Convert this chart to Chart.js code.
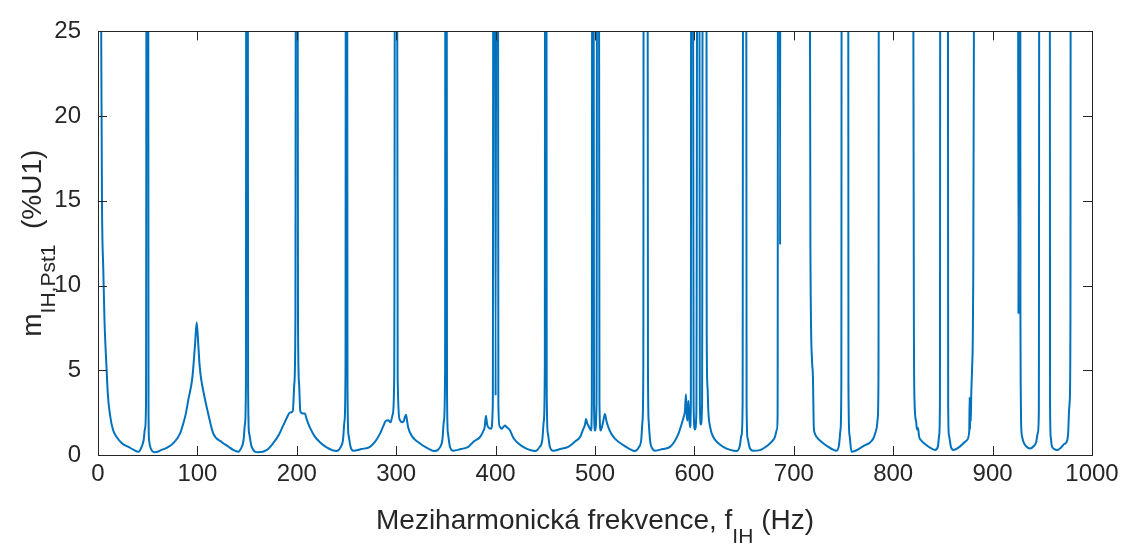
<!DOCTYPE html>
<html>
<head>
<meta charset="utf-8">
<script src="https://cdn.jsdelivr.net/npm/chart.js@4.4.1/dist/chart.umd.min.js"></script>
<style>
  html, body { margin: 0; padding: 0; background: #fff; }
  #wrap { width: 1127px; height: 545px; position: relative; }
</style>
</head>
<body>
<div id="wrap"><canvas id="mainChart"></canvas></div>
<script>
// Interharmonic frequency (Hz) and m_IH,Pst1 (%U1).
// 60 marks points that run off the top of the axis (clipped at 25).
const freqHz = [
    0, 3, 4, 5.3, 6.5, 8.7, 10, 12, 15, 18.8, 24, 30.5, 36, 40.5, 44, 46, 47.3, 48.3, 49.2, 50.3, 50.8, 51.3, 53, 57.3,
    64, 70, 75.8, 82.5, 86, 88.2, 91, 94.9, 97.6, 99.3, 100.9, 102.2, 103.6, 106.9, 111, 116, 124.4, 131, 136, 141, 144, 146.5, 147.8, 148.8, 149.4, 150.4, 151, 152, 154.6,
    161, 170, 176, 182, 186, 190, 193, 196, 197.5, 198.6, 199.4, 200.4, 201.2, 202.3, 203.5, 206, 208, 210, 213, 218, 223, 230, 240, 244, 246.5, 248, 249, 249.5, 250.4, 251, 252, 254,
    256.8, 265, 273.6, 279, 283.7, 287, 289.7, 292, 294.4, 296.5, 298, 299.3, 300.3, 301.5, 303.5, 305.5, 307.5, 309.9, 311, 312, 316, 324, 330, 339, 344, 346.5, 348, 349.2, 349.6, 350.5, 351.1, 352, 354, 357.5,
    365, 372.5, 378, 384.3, 387.5, 389, 390.3, 391.5, 392.6, 395.4, 397.2, 398, 398.8, 400, 401.2, 402, 402.8, 404, 406, 409.5, 411, 414.5, 418, 423, 430, 440, 444, 447, 448.5, 449.5, 450, 450.9, 451.4, 452.5, 454.5, 458,
    465, 473, 480, 485, 488, 490, 491, 492, 493.3, 496, 496.8, 497.4, 498.2, 499, 500, 501.5, 502.5, 503.5, 504.5, 505.7, 508, 510, 511.5, 513.4, 516, 520, 528.5, 535, 540, 544, 546.5, 547.8, 548.6, 549.2, 552.5, 553.3, 554, 555.5, 557.5,
    560.4, 568, 575.5, 580, 584, 587, 589, 590.5, 591.5, 592.3, 593, 594, 594.8, 595.6, 596.4, 597, 598, 599.2, 600.5, 602, 603.4, 604.5, 605.5, 606.5, 607.7, 608.8, 611.8, 612.4, 613.2, 614, 616, 619, 624, 629, 636, 642.5, 645.5, 647.5, 648.5, 649.3, 651.8, 652.5, 653.5, 655.5, 659,
    666, 674, 678, 681, 683, 683.7, 684.4, 685.5, 686.2, 686.8, 716, 716.3, 716.8, 718.4, 719.3, 720, 721, 723, 728, 734.7, 740, 743, 745.5, 747, 747.8, 748.4, 754.5, 755, 756, 758,
    762, 771.6, 776, 780, 782, 783.4, 784.5, 785.2, 785.8, 819.8, 820.3, 820.8, 821.5, 823, 824, 825, 826, 828, 833.6, 838, 842, 845, 846.3, 847, 847.6, 854.8, 855.3, 856, 858,
    860.5, 866, 870, 874, 876.5, 876.9, 877.3, 877.7, 878.1, 878.5, 879.3, 880.3, 881.2, 881.6, 925.2, 926, 926.8, 927.6, 928, 928.3, 928.7, 930, 931, 934, 937.6, 941, 944, 945.5, 946.5, 947.3, 957.3, 957.8, 958.6, 959.4, 962, 964.5, 969, 972, 974.5, 976, 977, 977.6, 978.3, 978.8, 1000
];
const mIH = [
    60, 28, 15, 11, 8, 5.0, 3.5, 2.4, 1.5, 1.06, 0.7, 0.48, 0.3, 0.19, 0.5, 0.9, 1.57, 3, 60, 60, 3, 0.9, 0.4, 0.16,
    0.3, 0.45, 0.7, 1.26, 1.9, 2.4, 3.3, 4.55, 6.5, 7.84, 6.5, 5.3, 4.55, 3.5, 2.4, 1.26, 0.77, 0.5, 0.3, 0.19, 0.4, 0.9, 1.8, 4, 60, 60, 4, 1.3, 0.48,
    0.16, 0.3, 0.68, 1.2, 1.7, 2.2, 2.5, 2.6, 4.2, 8, 60, 60, 8, 4.2, 2.6, 2.45, 2.45, 2.1, 1.64, 1.1, 0.77, 0.45, 0.23, 0.45, 0.9, 2, 5, 60, 60, 4, 1.2, 0.5,
    0.25, 0.35, 0.48, 0.8, 1.26, 1.7, 2.03, 2.05, 1.93, 2.4, 4.5, 60, 60, 4.5, 2.1, 1.93, 2.0, 2.38, 2.0, 1.64, 1.1, 0.68, 0.45, 0.23, 0.45, 0.9, 2, 5, 60, 60, 4, 1.3, 0.5, 0.25,
    0.35, 0.48, 0.8, 1.06, 1.4, 1.64, 2.32, 1.8, 1.64, 1.55, 3, 60, 60, 3.5, 60, 60, 3, 1.7, 1.55, 1.74, 1.65, 1.45, 1.0, 0.68, 0.4, 0.23, 0.45, 0.9, 2, 5, 60, 60, 4, 1.3, 0.5, 0.25,
    0.35, 0.48, 0.8, 1.06, 1.5, 1.8, 2.13, 1.9, 1.74, 1.45, 3, 60, 60, 3, 1.45, 3, 60, 60, 3, 1.45, 1.9, 2.42, 2.0, 1.64, 1.3, 0.97, 0.58, 0.35, 0.23, 0.45, 0.9, 2, 5, 60, 60, 5, 2, 0.8, 0.4,
    0.25, 0.35, 0.48, 0.8, 1.26, 1.8, 2.2, 2.6, 3.58, 2.4, 2.03, 3.2, 2.2, 1.64, 3, 60, 60, 3, 1.5, 2.5, 60, 60, 3, 1.8, 3, 60, 60, 7, 4, 2.6, 1.6, 1.06, 0.7, 0.48, 0.3, 0.23, 0.5, 1.2, 3, 60, 60, 3, 1, 0.45, 0.25,
    0.29, 0.58, 0.8, 1.06, 1.5, 2.3, 60, 60, 12.4, 60, 60, 25, 11.3, 5.5, 4.5, 1.8, 1.3, 1.06, 0.77, 0.48, 0.3, 0.25, 0.6, 1.5, 4, 60, 60, 4, 1.2, 0.19,
    0.25, 0.58, 0.7, 0.97, 1.3, 1.6, 2.2, 5, 60, 60, 25, 8, 3.1, 2.0, 1.5, 1.6, 1.1, 0.87, 0.58, 0.4, 0.29, 0.5, 1.2, 3, 60, 60, 3, 1.2, 0.5,
    0.29, 0.45, 0.65, 0.87, 1.4, 3.4, 1.5, 3.3, 2, 3.5, 5, 8.5, 25, 60, 60, 8.3, 60, 60, 8.3, 4, 1.8, 1.0, 0.77, 0.5, 0.39, 0.5, 0.8, 1.3, 2.5, 60, 60, 3, 1.0, 0.58, 0.35, 0.29, 0.45, 0.65, 0.77, 1.3, 2.7, 3.2, 8, 60, 60
];
const xTicks = [0, 100, 200, 300, 400, 500, 600, 700, 800, 900, 1000];
const yTicks = [0, 5, 10, 15, 20, 25];
// [text, isSubscript]
const xTitle = [['Meziharmonická frekvence, f', false], ['IH', true], [' (Hz)', false]];
const yTitle = [['m', false], ['IH,Pst1', true], ['  (%U1)', false]];

const FONT = "'Liberation Sans', Arial, sans-serif";
const TEXT_COLOR = '#262626';

function drawRich(ctx, parts, cx, baseY) {
    const mainFont = `28px ${FONT}`;
    const subFont = `21px ${FONT}`;
    const widths = parts.map(([t, sub]) => {
        ctx.font = sub ? subFont : mainFont;
        return ctx.measureText(t).width;
    });
    let x = cx - widths.reduce((s, w) => s + w, 0) / 2;
    parts.forEach(([t, sub], i) => {
        ctx.font = sub ? subFont : mainFont;
        ctx.fillText(t, x, baseY + (sub ? 14 : 0));
        x += widths[i];
    });
}

// MATLAB-style box: frame, inward ticks on all four sides, axis titles with subscripts
const matlabAxes = {
    id: 'matlabAxes',
    afterDraw(chart) {
        const { ctx, chartArea: a, scales } = chart;
        const tick = 9;
        ctx.save();
        ctx.strokeStyle = TEXT_COLOR;
        ctx.lineWidth = 1;
        ctx.beginPath();
        scales.x.ticks.forEach(t => {
            const px = Math.round(scales.x.getPixelForValue(t.value)) + 0.5;
            ctx.moveTo(px, a.bottom); ctx.lineTo(px, a.bottom - tick);
            ctx.moveTo(px, a.top); ctx.lineTo(px, a.top + tick);
        });
        scales.y.ticks.forEach(t => {
            const py = Math.round(scales.y.getPixelForValue(t.value)) + 0.5;
            ctx.moveTo(a.left, py); ctx.lineTo(a.left + tick, py);
            ctx.moveTo(a.right, py); ctx.lineTo(a.right - tick, py);
        });
        ctx.stroke();
        ctx.strokeRect(Math.round(a.left) + 0.5, Math.round(a.top) + 0.5,
            Math.round(a.right - a.left), Math.round(a.bottom - a.top));

        ctx.fillStyle = TEXT_COLOR;
        ctx.textBaseline = 'alphabetic';
        ctx.textAlign = 'left';
        drawRich(ctx, xTitle, (a.left + a.right) / 2, 529);

        ctx.translate(41, (a.top + a.bottom) / 2);
        ctx.rotate(-Math.PI / 2);
        drawRich(ctx, yTitle, 0, 0);
        ctx.restore();
    }
};

document.addEventListener('DOMContentLoaded', () => {
    Chart.defaults.font.family = FONT;
    Chart.defaults.color = TEXT_COLOR;

    new Chart(document.getElementById('mainChart'), {
        type: 'line',
        data: {
            datasets: [{
                data: freqHz.map((f, i) => ({ x: f, y: mIH[i] })),
                borderColor: '#0072BD',
                borderWidth: 2,
                pointRadius: 0,
                cubicInterpolationMode: 'monotone',
                fill: false
            }]
        },
        options: {
            responsive: true,
            maintainAspectRatio: false,
            animation: false,
            layout: { padding: { left: 0, right: 35, top: 24, bottom: 0 } },
            plugins: {
                legend: { display: false },
                tooltip: { enabled: false }
            },
            scales: {
                x: {
                    type: 'linear',
                    min: 0,
                    max: 1000,
                    grid: { display: false, drawTicks: false },
                    border: { display: false },
                    afterBuildTicks: s => { s.ticks = xTicks.map(v => ({ value: v })); },
                    afterFit: s => { s.height = 90; },
                    ticks: { font: { size: 24 }, padding: 5, maxRotation: 0, autoSkip: false, callback: v => String(v) }
                },
                y: {
                    min: 0,
                    max: 25,
                    grid: { display: false, drawTicks: false },
                    border: { display: false },
                    afterBuildTicks: s => { s.ticks = yTicks.map(v => ({ value: v })); },
                    afterFit: s => { s.width = 98; },
                    ticks: { font: { size: 24 }, padding: 17, autoSkip: false }
                }
            }
        },
        plugins: [matlabAxes]
    });
});
</script>
</body>
</html>
